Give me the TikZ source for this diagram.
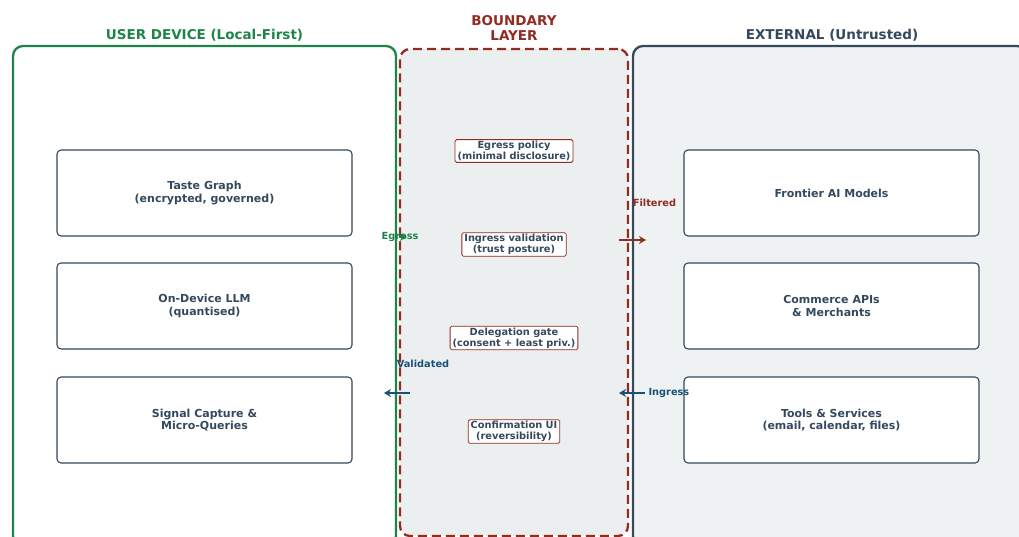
\documentclass[tikz,border=0pt]{standalone}
\usepackage{fontspec}
\setmainfont{DejaVu Sans}
\usepackage{tikz}
\usetikzlibrary{arrows.meta,positioning}
\definecolor{trustgreen}{HTML}{1E8449}
\definecolor{gatered}{HTML}{922B21}
\definecolor{navy}{HTML}{34495E}
\definecolor{flowblue}{HTML}{1A5276}
\definecolor{mist}{HTML}{ECEFF0}
\definecolor{haze}{HTML}{EEF2F3}

\begin{document}
\begin{tikzpicture}[x=1pt,y=-1pt,
  font=\bfseries,
  zone/.style={rounded corners=10pt,line width=2.3pt,minimum width=#1},
  comp/.style={draw=navy,line width=1.1pt,rounded corners=4pt,fill=white,align=center,
    minimum width=295pt,minimum height=86pt,text=navy,font=\fontsize{11}{12.5}\selectfont\bfseries},
  gate/.style={draw=gatered,line width=0.8pt,rounded corners=1.5pt,fill=white,align=center,
    inner xsep=2.5pt,inner ysep=1.5pt,text=navy,font=\fontsize{9.8}{11}\selectfont\bfseries},
  ttl/.style={align=center,font=\fontsize{13.5}{15}\selectfont\bfseries},
  lbl/.style={font=\fontsize{9.8}{11}\selectfont\bfseries},
  arr/.style={-{Stealth[length=7pt,width=8pt]},line width=2.4pt}]
\useasboundingbox (0,0) rectangle (1019,536);
\clip (0,0) rectangle (1019,536);
% zones
\node[zone=383pt,draw=trustgreen,fill=white,minimum height=500pt] (dev) at (204.5,296) {};
\node[zone=228pt,draw=gatered,dashed,dash pattern=on 9pt off 5pt,fill=mist,minimum height=487pt] (bnd) at (514,292.5) {};
\node[zone=394pt,draw=navy,fill=haze,minimum height=500pt] (ext) at (830,296) {};
\node[ttl,text=trustgreen] (devt) at (204.5,35) {USER DEVICE (Local-First)};
\node[ttl,text=gatered] (bndt) at (514,28) {BOUNDARY\\LAYER};
\node[ttl,text=navy] (extt) at (832,35) {EXTERNAL (Untrusted)};
% local components
\node[comp] (taste) at (204.5,193) {Taste Graph\\(encrypted, governed)};
\node[comp] (llm) at (204.5,306) {On-Device LLM\\(quantised)};
\node[comp] (sig) at (204.5,420) {Signal Capture \&\\Micro-Queries};
% boundary gates
\node[gate] (egp) at (514,151) {Egress policy\\(minimal disclosure)};
\node[gate] (ingv) at (514,244.5) {Ingress validation\\(trust posture)};
\node[gate] (dlg) at (514,338) {Delegation gate\\(consent + least priv.)};
\node[gate] (conf) at (514,431.5) {Confirmation UI\\(reversibility)};
% external services
\node[comp] (ai) at (831.5,193) {Frontier AI Models};
\node[comp] (apis) at (831.5,306) {Commerce APIs\\\& Merchants};
\node[comp] (tools) at (831.5,420) {Tools \& Services\\(email, calendar, files)};
% flows
\coordinate (egA) at (399,237);
\coordinate (egB) at (407,237);
\coordinate (flA) at (619,240);
\coordinate (flB) at (646,240);
\coordinate (inA) at (645,393);
\coordinate (inB) at (619,393);
\coordinate (vaA) at (410,393);
\coordinate (vaB) at (384,393);
\draw[arr,trustgreen] (egA) -- (egB);
\draw[arr,gatered] (flA) -- (flB);
\draw[arr,flowblue] (inA) -- (inB);
\draw[arr,flowblue] (vaA) -- (vaB);
\node[lbl,text=trustgreen] (egl) at (400,236.5) {Egress};
\node[lbl,text=gatered] (fll) at (654.5,203) {Filtered};
\node[lbl,text=flowblue,right=0pt of inA] (inl) {Ingress};
\node[lbl,text=flowblue] (val) at (423,363.5) {Validated};
\end{tikzpicture}
\end{document}
